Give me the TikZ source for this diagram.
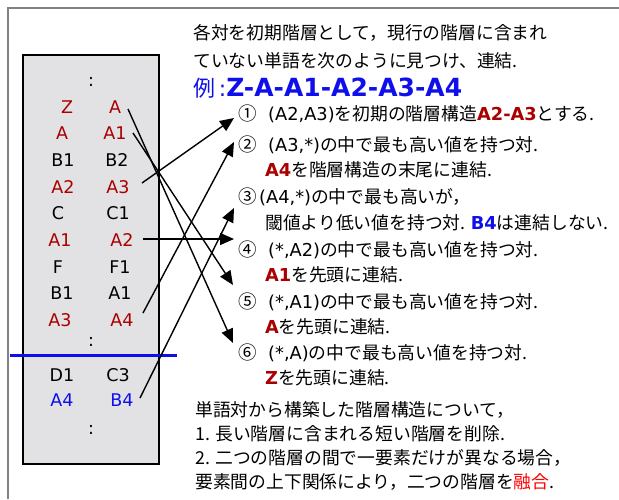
\documentclass[tikz,border=0pt]{standalone}
\usepackage{fontspec}
\usetikzlibrary{arrows.meta}
\newfontfamily\jp{Noto Sans CJK JP}
\newfontfamily\lat{DejaVu Sans}
\definecolor{dred}{RGB}{170,0,0}
\definecolor{myblue}{RGB}{15,15,235}
\definecolor{marble}{RGB}{226,226,229}
\definecolor{framegray}{RGB}{130,130,130}
\newcommand\latx[1]{{\lat #1}}
\newcommand\bred[1]{{\lat\bfseries\color{dred}#1}}
\newcommand\bblue[1]{{\lat\bfseries\color{myblue}#1}}
\begin{document}
\begin{tikzpicture}[x=1pt,y=-1pt,
  lbl/.style={font=\lat\fontsize{17.5}{17.5}\selectfont, anchor=base, inner sep=0pt},
  jt/.style={font=\jp\fontsize{17.8}{17.8}\selectfont, anchor=base west, inner sep=0pt},
  num/.style={font=\jp\fontsize{18.5}{18.5}\selectfont, anchor=base west, inner sep=0pt},
  arr/.style={line width=1.4pt, -{Triangle[length=14pt,width=12pt]}}]
\useasboundingbox (0,0) rectangle (619,499);
% frame
\draw[framegray, line width=1.5pt] (8,499) -- (8,8) -- (619,8);
% left box
\draw[fill=marble, line width=1.3pt] (23,55) rectangle (159,464);
% dots
\node[lbl] (d1) at (91,86) {:};
\node[lbl] (d2) at (91,346) {:};
\node[lbl] (d3) at (91,434) {:};
% rows
\node[lbl, dred] (l1) at (67,113.5) {Z};   \node[lbl, dred] (r1) at (115,113.5) {A};
\node[lbl, dred] (l2) at (62,139.5) {A};   \node[lbl, dred] (r2) at (115,139.5) {A1};
\node[lbl] (l3) at (63,166.5) {B1};        \node[lbl] (r3) at (117,166.5) {B2};
\node[lbl, dred] (l4) at (63,193.5) {A2};  \node[lbl, dred] (r4) at (118,193.5) {A3};
\node[lbl] (l5) at (58,219.5) {C};         \node[lbl] (r5) at (118,219.5) {C1};
\node[lbl, dred] (l6) at (60,246.5) {A1};  \node[lbl, dred] (r6) at (122,246.5) {A2};
\node[lbl] (l7) at (58,273.5) {F};         \node[lbl] (r7) at (120,273.5) {F1};
\node[lbl] (l8) at (62,299.5) {B1};        \node[lbl] (r8) at (120,299.5) {A1};
\node[lbl, dred] (l9) at (60,326.5) {A3};  \node[lbl, dred] (r9) at (122,326.5) {A4};
\node[lbl] (l10) at (62,381.5) {D1};       \node[lbl] (r10) at (118,381.5) {C3};
\node[lbl, myblue] (l11) at (62,406.5) {A4}; \node[lbl, myblue] (r11) at (122,406.5) {B4};
% blue separator
\draw[myblue, line width=3pt] (10,355) -- (177,355);
% right texts
\node[jt] (t1) at (193,39.5) {各対を初期階層として，現行の階層に含まれ};
\node[jt] (t2) at (193,67) {ていない単語を次のように見つけ、連結.};
\node[anchor=base west, inner sep=0pt, text=myblue] (ex) at (193,96)
  {{\jp\fontsize{22}{22}\selectfont 例}{\lat\fontsize{22}{22}\selectfont\,:}{\lat\bfseries\fontsize{25}{25}\selectfont Z-A-A1-A2-A3-A4}};
\node[num] (c1) at (238,120) {①};
\node[jt] (s1) at (268,120) {\latx{(A2,A3)}を初期の階層構造\bred{A2-A3}とする.};
\node[num] (c2) at (238,151) {②};
\node[jt] (s2) at (268,151) {\latx{(A3,*)}の中で最も高い値を持つ対.};
\node[jt] (s2b) at (265,176.5) {\bred{A4}を階層構造の末尾に連結.};
\node[num] (c3) at (238,203) {③};
\node[jt] (s3) at (259,203) {\latx{(A4,*)}の中で最も高いが，};
\node[jt] (s3b) at (265,229.5) {閾値より低い値を持つ対. \bblue{B4}は連結しない.};
\node[num] (c4) at (238,256) {④};
\node[jt] (s4) at (268,256) {\latx{(*,A2)}の中で最も高い値を持つ対.};
\node[jt] (s4b) at (265,281.5) {\bred{A1}を先頭に連結.};
\node[num] (c5) at (238,308) {⑤};
\node[jt] (s5) at (268,308) {\latx{(*,A1)}の中で最も高い値を持つ対.};
\node[jt] (s5b) at (265,333.5) {\bred{A}を先頭に連結.};
\node[num] (c6) at (238,359.5) {⑥};
\node[jt] (s6) at (268,359.5) {\latx{(*,A)}の中で最も高い値を持つ対.};
\node[jt] (s6b) at (265,384.5) {\bred{Z}を先頭に連結.};
\node[jt] (b1) at (195,416.5) {単語対から構築した階層構造について，};
\node[jt] (b2) at (195,440.5) {1.  長い階層に含まれる短い階層を削除.};
\node[jt] (b3) at (195,464.5) {2.  二つの階層の間で一要素だけが異なる場合，};
\node[jt] (b4) at (195,488.5) {要素間の上下関係により，二つの階層を{\color{red}融合}.};
% arrow endpoints
\coordinate (pA) at (128,109);
\coordinate (pA1) at (133,133);
\coordinate (pA3) at (142,183);
\coordinate (pA2) at (143,239);
\coordinate (pA4) at (143,313);
\coordinate (pB4) at (140,398);
\coordinate (h1) at (234,118);
\coordinate (h2) at (234,142);
\coordinate (h3) at (234,208);
\coordinate (h4) at (234,239);
\coordinate (h5) at (233,285);
\coordinate (h6) at (233,343);
\draw[arr] (pA3) -- (h1);
\draw[arr] (pA4) -- (h2);
\draw[arr] (pB4) -- (h3);
\draw[arr] (pA2) -- (h4);
\draw[arr] (pA1) -- (h5);
\draw[arr] (pA) -- (h6);
\end{tikzpicture}
\end{document}
